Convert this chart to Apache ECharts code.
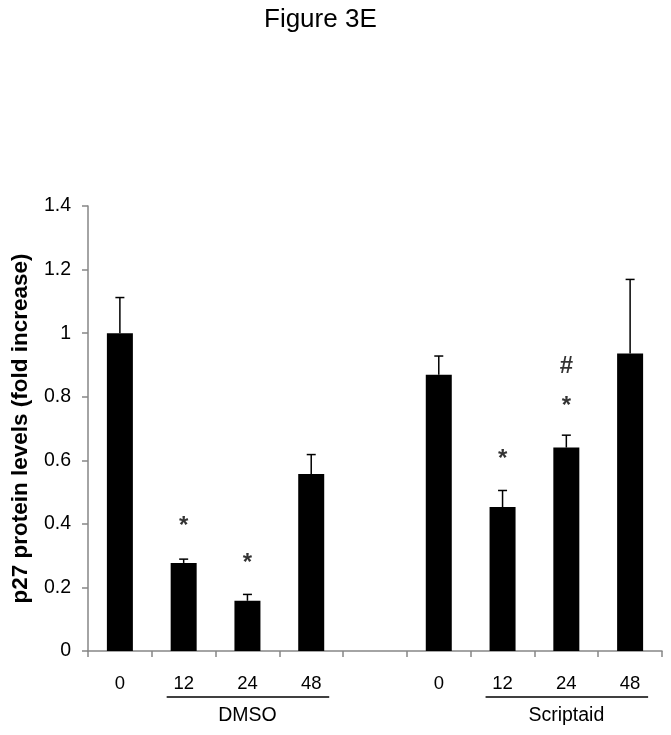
<!DOCTYPE html>
<html>
<head>
<meta charset="utf-8">
<script src="https://cdn.jsdelivr.net/npm/echarts@6/dist/echarts.min.js"></script>
<style>
    html, body { margin: 0; padding: 0; background: #fff; }
    #chart { width: 671px; height: 735px; }
</style>
</head>
<body>
<div id="chart"></div>
<script>
// 数据
const categories = ["0", "12", "24", "48", "", "0", "12", "24", "48"];
const means = [1.0, 0.277, 0.158, 0.557, null, 0.869, 0.453, 0.64, 0.936];
const upperErr = [1.112, 0.289, 0.178, 0.618, null, 0.928, 0.505, 0.679, 1.169];
// 显著性标记: [类别序号, 高度, 符号]
const marks = [
    [1, 0.392, "*"],
    [2, 0.275, "*"],
    [6, 0.604, "*"],
    [7, 0.769, "*"],
    [7, 0.897, "#"],
];
// 分组: [起始序号, 结束序号, 名称]
const groups = [
    [1, 3, "DMSO"],
    [6, 8, "Scriptaid"],
];

const chart = echarts.init(document.getElementById("chart"));
const font = "Liberation Sans, Arial, sans-serif";

const option = {
    animation: false,
    title: {
        text: "Figure 3E",
        left: 259,
        top: 2,
        textStyle: { fontFamily: font, fontSize: 26, fontWeight: "normal", color: "#000" },
    },
    grid: { left: 88, right: 9, top: 206, bottom: 84 },
    xAxis: {
        type: "category",
        data: categories,
        axisLine: { lineStyle: { color: "#868686", width: 1.5 } },
        axisTick: { show: true, length: 6, lineStyle: { color: "#868686", width: 1.5 } },
        axisLabel: { margin: 23, fontFamily: font, fontSize: 18.5, color: "#000" },
    },
    yAxis: {
        type: "value",
        min: 0,
        max: 1.4,
        interval: 0.2,
        name: "p27 protein levels (fold increase)",
        nameLocation: "middle",
        nameGap: 56,
        nameTextStyle: { fontFamily: font, fontSize: 22.5, fontWeight: "bold", color: "#000" },
        splitLine: { show: false },
        axisLine: { show: true, lineStyle: { color: "#868686", width: 1.5 } },
        axisTick: { show: true, length: 6, lineStyle: { color: "#868686", width: 1.5 } },
        axisLabel: { margin: 17, fontFamily: font, fontSize: 19.5, color: "#000" },
    },
    series: [
        {
            type: "bar",
            data: means.map((v) => (v === null ? "-" : v)),
            barWidth: 26,
            itemStyle: { color: "#000" },
        },
        {
            // 误差线 (只画上半部分)
            type: "custom",
            data: means.map((v, i) => (v === null ? null : [i, v, upperErr[i]])).filter((d) => d),
            encode: { x: 0, y: 2 },
            renderItem: (params, api) => {
                const base = api.coord([api.value(0), api.value(1)]);
                const top = api.coord([api.value(0), api.value(2)]);
                const style = { stroke: "#000", lineWidth: 1.5 };
                return {
                    type: "group",
                    children: [
                        { type: "line", shape: { x1: base[0], y1: base[1], x2: top[0], y2: top[1] }, style },
                        { type: "line", shape: { x1: top[0] - 4.5, y1: top[1], x2: top[0] + 4.5, y2: top[1] }, style },
                    ],
                };
            },
        },
        {
            // 星号和井号
            type: "scatter",
            symbolSize: 0,
            data: marks.map((m) => ({ value: [m[0], m[1]], name: m[2] })),
            label: {
                show: true,
                position: "inside",
                formatter: (p) => p.name,
                fontFamily: font,
                fontSize: 24,
                fontWeight: "bold",
                color: "#000",
            },
        },
        {
            // 分组下划线和名称
            type: "custom",
            data: groups.map((g) => [g[0], g[1], g[2]]),
            clip: false,
            renderItem: (params, api) => {
                const a = api.coord([api.value(0), 0]);
                const b = api.coord([api.value(1), 0]);
                const y = a[1] + 46;
                return {
                    type: "group",
                    children: [
                        { type: "line", shape: { x1: a[0] - 17, y1: y, x2: b[0] + 18, y2: y }, style: { stroke: "#000", lineWidth: 1.5 } },
                        {
                            type: "text",
                            x: (a[0] + b[0]) / 2,
                            y: y + 19,
                            style: {
                                text: groups[params.dataIndex][2],
                                fontFamily: font,
                                fontSize: 19.5,
                                fill: "#000",
                                align: "center",
                                verticalAlign: "middle",
                            },
                        },
                    ],
                };
            },
        },
    ],
};

chart.setOption(option);
</script>
</body>
</html>
